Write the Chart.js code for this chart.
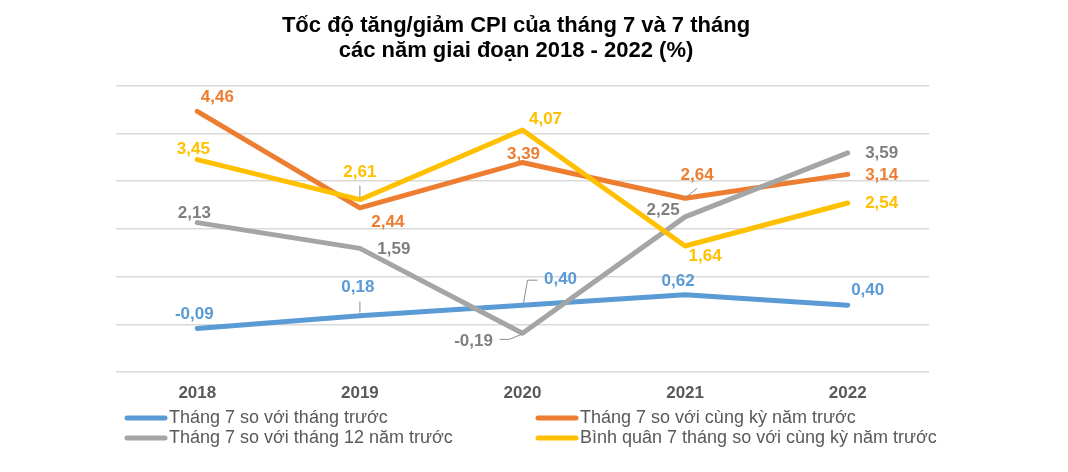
<!DOCTYPE html>
<html>
<head>
<meta charset="utf-8">
<script src="https://cdn.jsdelivr.net/npm/chart.js@4.4.1/dist/chart.umd.min.js"></script>
<style>
    html, body { margin: 0; padding: 0; background: #fff; }
    #wrap { width: 1068px; height: 472px; position: relative; }
</style>
</head>
<body>
<div id="wrap"><canvas id="cpiChart"></canvas></div>
<script>
// Data
const years = ['2018', '2019', '2020', '2021', '2022'];
const seriesNames = [
    'Tháng 7 so với tháng trước',
    'Tháng 7 so với cùng kỳ năm trước',
    'Tháng 7 so với tháng 12 năm trước',
    'Bình quân 7 tháng so với cùng kỳ năm trước'
];
const momValues = [-0.09, 0.18, 0.40, 0.62, 0.40];
const yoyValues = [4.46, 2.44, 3.39, 2.64, 3.14];
const vsDecValues = [2.13, 1.59, -0.19, 2.25, 3.59];
const avg7Values = [3.45, 2.61, 4.07, 1.64, 2.54];
const yMin = -1, yMax = 5, yStep = 1;

// Styles
const FONT = "'Liberation Sans', Arial, sans-serif";
const lineColors = ['#5B9BD5', '#ED7D31', '#A5A5A5', '#FFC000'];
const labelColors = ['#5B9BD5', '#ED7D31', '#7F7F7F', '#FFC000'];

// label offsets from each point (px)
const labelOffsets = [
    [[-3, -14], [-2, -28], [38, -26], [-7, -13], [20, -15]],
    [[20, -14], [28, 15], [1, -8], [12, -23], [34, 1]],
    [[-3, -9], [34, 1], [-49, 8], [-22, -7], [34, 0]],
    [[-4, -10], [0, -27], [23, -11], [20, 10], [34, 0]]
];
// leader lines: [dataset, point, path relative to point]
const leaderLines = [
    [0, 1, [[0, -3], [0, -14]]],
    [3, 1, [[0, -2], [0, -14]]],
    [0, 2, [[1, -2], [5, -25], [15, -25]]],
    [2, 2, [[-1, 1], [-13, 6], [-23, 6]]],
    [1, 3, [[1, -1], [12, -10]]]
];
// legend slots
const legendSlots = [[127, 418], [538, 418], [127, 438], [538, 438]];

const pointLabels = {
    id: 'pointLabels',
    afterDatasetsDraw(chart) {
        const ctx = chart.ctx;
        ctx.save();
        ctx.strokeStyle = '#8c8c8c';
        ctx.lineWidth = 1;
        leaderLines.forEach(([d, i, path]) => {
            const p = chart.getDatasetMeta(d).data[i];
            ctx.beginPath();
            path.forEach(([dx, dy], k) => {
                if (k === 0) ctx.moveTo(p.x + dx, p.y + dy);
                else ctx.lineTo(p.x + dx, p.y + dy);
            });
            ctx.stroke();
        });
        ctx.font = 'bold 17px ' + FONT;
        ctx.textAlign = 'center';
        ctx.textBaseline = 'middle';
        chart.data.datasets.forEach((ds, d) => {
            const meta = chart.getDatasetMeta(d);
            ctx.fillStyle = labelColors[d];
            meta.data.forEach((pt, i) => {
                const [dx, dy] = labelOffsets[d][i];
                ctx.fillText(ds.data[i].toFixed(2).replace('.', ','), pt.x + dx, pt.y + dy);
            });
        });
        ctx.restore();
    },
    afterDraw(chart) {
        const ctx = chart.ctx;
        ctx.save();
        ctx.font = '18px ' + FONT;
        ctx.textAlign = 'left';
        ctx.textBaseline = 'middle';
        chart.data.datasets.forEach((ds, d) => {
            const [x, y] = legendSlots[d];
            ctx.strokeStyle = ds.borderColor;
            ctx.lineWidth = 5;
            ctx.lineCap = 'round';
            ctx.beginPath();
            ctx.moveTo(x, y);
            ctx.lineTo(x + 38, y);
            ctx.stroke();
            ctx.fillStyle = '#595959';
            ctx.fillText(ds.label, x + 42, y);
        });
        ctx.restore();
    }
};

const seriesValues = [momValues, yoyValues, vsDecValues, avg7Values];
const drawOrder = [3, 2, 1, 0];

const config = {
    type: 'line',
    data: {
        labels: years,
        datasets: seriesValues.map((vals, i) => ({
            label: seriesNames[i],
            data: vals,
            borderColor: lineColors[i],
            backgroundColor: lineColors[i],
            borderWidth: 5,
            borderCapStyle: 'round',
            borderJoinStyle: 'round',
            pointRadius: 0,
            tension: 0,
            order: drawOrder[i]
        }))
    },
    options: {
        responsive: true,
        maintainAspectRatio: false,
        animation: false,
        devicePixelRatio: 1,
        layout: { padding: { left: 103, right: 139, top: 0, bottom: 0 } },
        plugins: {
            legend: { display: false },
            tooltip: { enabled: false },
            title: {
                display: true,
                text: ['Tốc độ tăng/giảm CPI của tháng 7 và 7 tháng', 'các năm giai đoạn 2018 - 2022 (%)'],
                color: '#000',
                font: { family: FONT, size: 22, weight: 'bold', lineHeight: 1.15 },
                padding: { top: 13, bottom: 22 }
            }
        },
        scales: {
            x: {
                offset: true,
                grid: { display: false, drawTicks: false },
                border: { display: false },
                ticks: {
                    color: '#595959',
                    font: { family: FONT, size: 17, weight: 'bold' },
                    padding: 11
                },
                afterFit: (scale) => { scale.height = 100; }
            },
            y: {
                min: yMin,
                max: yMax,
                ticks: { display: false, stepSize: yStep },
                grid: { color: '#d9d9d9', lineWidth: 1.5, drawTicks: false },
                border: { display: false },
                afterFit: (scale) => { scale.width = 13; }
            }
        }
    },
    plugins: [pointLabels]
};

const cpiChart = new Chart(document.getElementById('cpiChart'), config);
</script>
</body>
</html>
